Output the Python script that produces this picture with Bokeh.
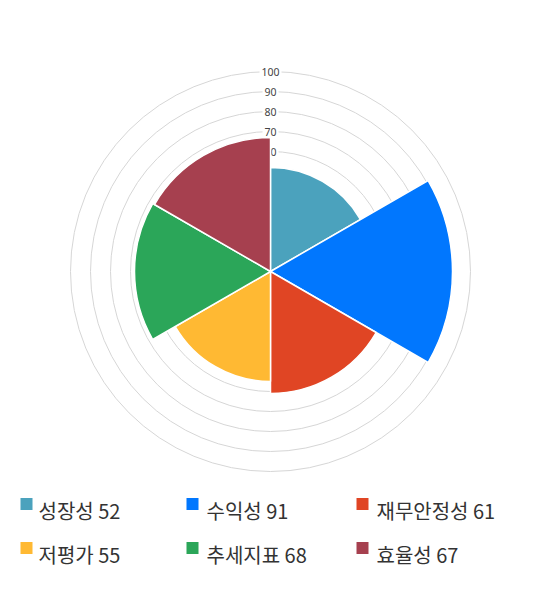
import math
from bokeh.plotting import figure
from bokeh.models import Range1d
from bokeh.embed import file_html
from bokeh.resources import INLINE
from bokeh.core.properties import value

# ---- data ----
categories = ["성장성", "수익성", "재무안정성", "저평가", "추세지표", "효율성"]
scores = [52, 91, 61, 55, 68, 67]
colors = ["#4BA2BD", "#0177FE", "#E04524", "#FFB933", "#2BA659", "#A6404F"]
ring_values = [10, 20, 30, 40, 50, 60, 70, 80, 90, 100]
tick_values = [60, 70, 80, 90, 100]
tick_labels = ["60", "70", "80", "90", "100"]

# ---- layout ----
W, H = 524, 574
SCALE = 2.0          # pixels per value unit
CX, CY = 270, 271    # chart centre in plot pixels


def dx(sx):
    return (sx - CX) / SCALE


def dy(sy):
    return (CY - sy) / SCALE


p = figure(width=W, height=H, output_backend="svg", toolbar_location=None,
           x_range=Range1d(-CX / SCALE, (W - CX) / SCALE),
           y_range=Range1d(-(H - CY) / SCALE, CY / SCALE),
           x_axis_type=None, y_axis_type=None,
           min_border=0, min_border_left=0, min_border_right=0,
           min_border_top=0, min_border_bottom=0)
p.grid.visible = False
p.outline_line_color = None
p.background_fill_color = "white"
p.border_fill_color = "white"

# rings
p.circle(x=[0] * len(ring_values), y=[0] * len(ring_values), radius=ring_values,
         fill_color=None, line_color="#d6d6d6", line_width=1)

# ring labels (under the wedges)
p.text(x=[0] * len(tick_values), y=tick_values, text=tick_labels,
       text_align="center", text_baseline="middle", text_font_size="10.5px",
       text_color="#444444", text_font=value("Noto Sans"),
       background_fill_color="white", padding=2)

# wedges
n = len(scores)
step = 2 * math.pi / n
starts = [math.pi / 2 - (i + 1) * step for i in range(n)]
ends = [math.pi / 2 - i * step for i in range(n)]
p.wedge(x=[0] * n, y=[0] * n, radius=scores, start_angle=starts, end_angle=ends,
        fill_color=colors, line_color="white", line_width=1.5)

# legend
sq_x = [26, 192, 362]
tx_x = [38, 206, 376]
sq_y = [503.5, 547.5]
tx_y = [509.5, 553.5]
lx, ly, lc, ltx, lty, lt = [], [], [], [], [], []
for i, (c, s) in enumerate(zip(categories, scores)):
    r, col = divmod(i, 3)
    lx.append(dx(sq_x[col]))
    ly.append(dy(sq_y[r]))
    lc.append(colors[i])
    ltx.append(dx(tx_x[col]))
    lty.append(dy(tx_y[r]))
    lt.append(f"{c} {s}")
p.scatter(x=lx, y=ly, marker="square", size=12, fill_color=lc, line_color=None)
p.text(x=ltx, y=lty, text=lt, text_align="left", text_baseline="middle",
       text_font_size="20px", text_color="#333333",
       text_font=value("Noto Sans CJK KR"))

open("out.html", "w").write(file_html(p, INLINE))
